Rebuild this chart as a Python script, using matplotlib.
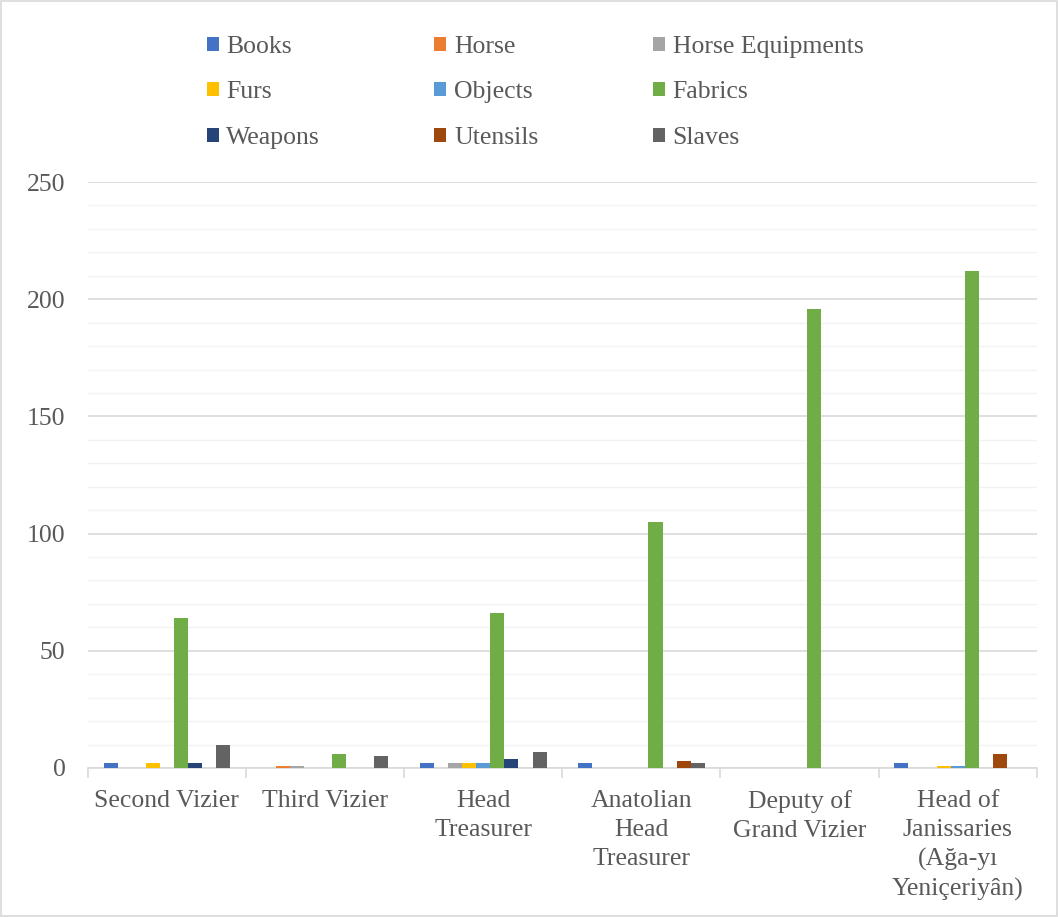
import numpy as np
import matplotlib.pyplot as plt
from matplotlib.patches import Rectangle

plt.rcParams['font.family'] = ['Liberation Serif', 'DejaVu Serif']

categories = ['Second Vizier', 'Third Vizier', 'Head\nTreasurer', 'Anatolian\nHead\nTreasurer',
              'Deputy of\nGrand Vizier', 'Head of\nJanissaries\n(Ağa-yı\nYeniçeriyân)']
series = ['Books', 'Horse', 'Horse Equipments', 'Furs', 'Objects', 'Fabrics',
          'Weapons', 'Utensils', 'Slaves']
colors = ['#4472C4', '#ED7D31', '#A5A5A5', '#FFC000', '#5B9BD5', '#70AD47',
          '#264478', '#9E480E', '#636363']

books = [2, 0, 2, 2, 0, 2]
horse = [0, 1, 0, 0, 0, 0]
horse_equip = [0, 1, 2, 0, 0, 0]
furs = [2, 0, 2, 0, 0, 1]
objects = [0, 0, 2, 0, 0, 1]
fabrics = [64, 6, 66, 105, 196, 212]
weapons = [2, 0, 4, 0, 0, 0]
utensils = [0, 0, 0, 3, 0, 6]
slaves = [10, 5, 7, 2, 0, 0]
values = [books, horse, horse_equip, furs, objects, fabrics, weapons, utensils, slaves]

txt = '#595959'
fs = 18.5
fig = plt.figure(figsize=(10.58, 9.17), dpi=100)
ax = fig.add_axes([0.083, 0.1625, 0.897, 0.639])

x = np.arange(len(categories))
w = 0.089
handles = []
for i, (name, vals) in enumerate(zip(series, values)):
    b = ax.bar(x + (i - 4) * w, vals, w, color=colors[i], label=name, zorder=3)
    handles.append(b)

ax.set_ylim(0, 250)
ax.set_xlim(-0.5, len(categories) - 0.5)
ax.set_yticks(np.arange(0, 251, 50))
ax.set_yticks(np.arange(0, 251, 10), minor=True)
ax.yaxis.grid(True, which='major', color='#d9d9d9', linewidth=1.2, zorder=0)
ax.yaxis.grid(True, which='minor', color='#f2f2f2', linewidth=1.0, zorder=0)
ax.tick_params(axis='y', which='both', length=0, labelsize=fs, labelcolor=txt, pad=16)

ax.set_xticks(np.arange(-0.5, len(categories), 1.0))
ax.set_xticklabels([])
ax.set_xticks(x, minor=True)
ax.set_xticklabels(categories, minor=True, fontsize=fs, color=txt, linespacing=1.4)
ax.tick_params(axis='x', which='major', length=7, color='#d9d9d9', width=1.2)
ax.tick_params(axis='x', which='minor', length=0, pad=16)

for s in ['top', 'right', 'left']:
    ax.spines[s].set_visible(False)
ax.spines['bottom'].set_color('#d9d9d9')
ax.spines['bottom'].set_linewidth(1.2)

order = [0, 3, 6, 1, 4, 7, 2, 5, 8]
leg = fig.legend([handles[i] for i in order], [series[i] for i in order],
                 ncol=3, loc='upper left', bbox_to_anchor=(0.1855, 0.972),
                 borderaxespad=0, frameon=False, fontsize=fs,
                 handlelength=0.47, handleheight=0.47,
                 handletextpad=0.3, columnspacing=4.45, labelspacing=0.91,
                 labelcolor=txt)

fig.patches.append(Rectangle((0.001, 0.001), 0.998, 0.998, transform=fig.transFigure,
                             fill=False, edgecolor='#d9d9d9', linewidth=1.2))

fig.savefig('out.png', dpi=100)
